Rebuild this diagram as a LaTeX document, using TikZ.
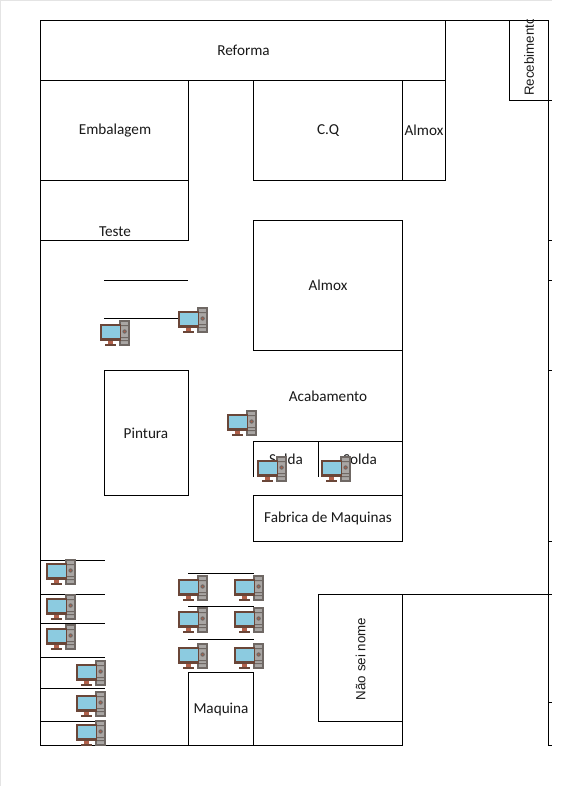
\documentclass[tikz,border=0pt]{standalone}
\usepackage{fontspec}
\setmainfont{Carlito}
\newfontfamily\rotfont{Liberation Sans}
\definecolor{edgegray}{HTML}{E4E4E4}
\definecolor{pcscreen}{HTML}{8CCBE0}
\definecolor{pcframe}{HTML}{6A4638}
\definecolor{pcneck}{HTML}{B0604A}
\definecolor{pctower}{HTML}{6F6864}
\definecolor{pcpanel}{HTML}{A9A6A4}
\tikzset{
  wall/.style={draw=black,line width=.85pt},
  tick/.style={draw=black,line width=.8pt},
  label/.style={font=\fontsize{15.2}{17}\selectfont,text=black!90,inner sep=0pt},
  rotlabel/.style={font=\rotfont\fontsize{13.3}{16}\selectfont,text=black!90,inner sep=0pt,rotate=90},
  pc/.pic={
    \fill[pctower] (19,0) rectangle (30,26);
    \fill[pcpanel] (21,2) rectangle (28.3,24);
    \fill[pctower] (21,5) rectangle (28.3,6) (21,17) rectangle (28.3,18) (21,20) rectangle (28.3,21);
    \fill[pctower] (24.6,11.5) circle (2.2);
    \fill[pcneck] (24.6,11.5) circle (.9);
    \fill[pcneck] (8,20) rectangle (13,24);
    \fill[pcframe] (5,24) rectangle (16,26.2);
    \fill[pcframe] (0,4) rectangle (21,20.5);
    \fill[pcscreen] (1.5,5.5) rectangle (19.5,18);
  }
}
\begin{document}
\begin{tikzpicture}[x=1pt,y=-1pt]
\useasboundingbox (0,0) rectangle (568,786);
\fill[white] (0,0) rectangle (568,786);
\fill[edgegray] (0,0) rectangle (552,1.2);
\fill[edgegray] (0,0) rectangle (1.2,786);

% rooms
\draw[wall] (40,20) rectangle (445,80);
\draw[wall] (40,80) rectangle (188,180);
\draw[wall] (40,180) rectangle (188,240);
\draw[wall] (253,80) rectangle (402,180);
\draw[wall] (402,80) rectangle (445,180);
\draw[wall] (253,220) rectangle (402,350);
\draw[wall] (104,370) rectangle (188,495);
\draw[wall] (253,495) rectangle (402,541);
\draw[wall] (318,594) rectangle (402,721);
\draw[wall] (188,745) -- (188,672) -- (253,672) -- (253,745);
\draw[wall] (509,20) rectangle (548,100);

% outer walls
\draw[wall] (40,240) -- (40,745) -- (402,745) -- (402,721);
\draw[wall] (445,20) -- (548,20) -- (548,745);
\draw[wall] (402,350) -- (402,495);
\draw[wall] (253,477) -- (253,441) -- (402,441);
\draw[wall] (318,441) -- (318,477);
\draw[wall] (402,594) -- (548,594);

% ticks on the right wall
\foreach \yy in {100,240,280,370,541,594,702,745}
  \draw[tick] (548,\yy) -- (552,\yy);

% partition lines
\draw[wall] (104,280) -- (188,280);
\draw[wall] (104,318) -- (180,318);
\foreach \yy in {560,594,623,657,688,721}
  \draw[wall] (40,\yy) -- (105,\yy);
\foreach \yy in {573,606,639}
  \draw[wall] (188,\yy) -- (254,\yy);

% labels
\node[label] (reforma) at (243.5,50) {Reforma};
\node[label] (embalagem) at (115,130.5) {Embalagem};
\node[label] (teste) at (115,231.5) {Teste};
\node[label] (cq) at (328,130.5) {C.Q};
\node[label] (almoxa) at (424,130.5) {Almox};
\node[label] (almoxb) at (328,285.5) {Almox};
\node[label] (acabamento) at (328,396.5) {Acabamento};
\node[label] (pintura) at (146,433.5) {Pintura};
\node[label] (soldaa) at (286,459.5) {Solda};
\node[label] (soldab) at (360,459.5) {Solda};
\node[label] (fabrica) at (328,518.5) {Fabrica de Maquinas};
\node[label] (maquina) at (221,709.5) {Maquina};
\node[rotlabel] (naosei) at (360.5,659) {Não sei nome};
\begin{scope}
  \clip (509,20) rectangle (548,100);
  \node[rotlabel,anchor=west] (recebimento) at (529,96) {Recebimento};
\end{scope}

% computers
\foreach \xx/\yy in {100/320,178/307,227/410,257/456,321/456,
  46/559,46/594,46/624,76/660,76/691,76/720,
  178/575,234/575,178/607,234/607,178/643,234/643}
  \pic at (\xx,\yy) {pc};
\end{tikzpicture}
\end{document}
